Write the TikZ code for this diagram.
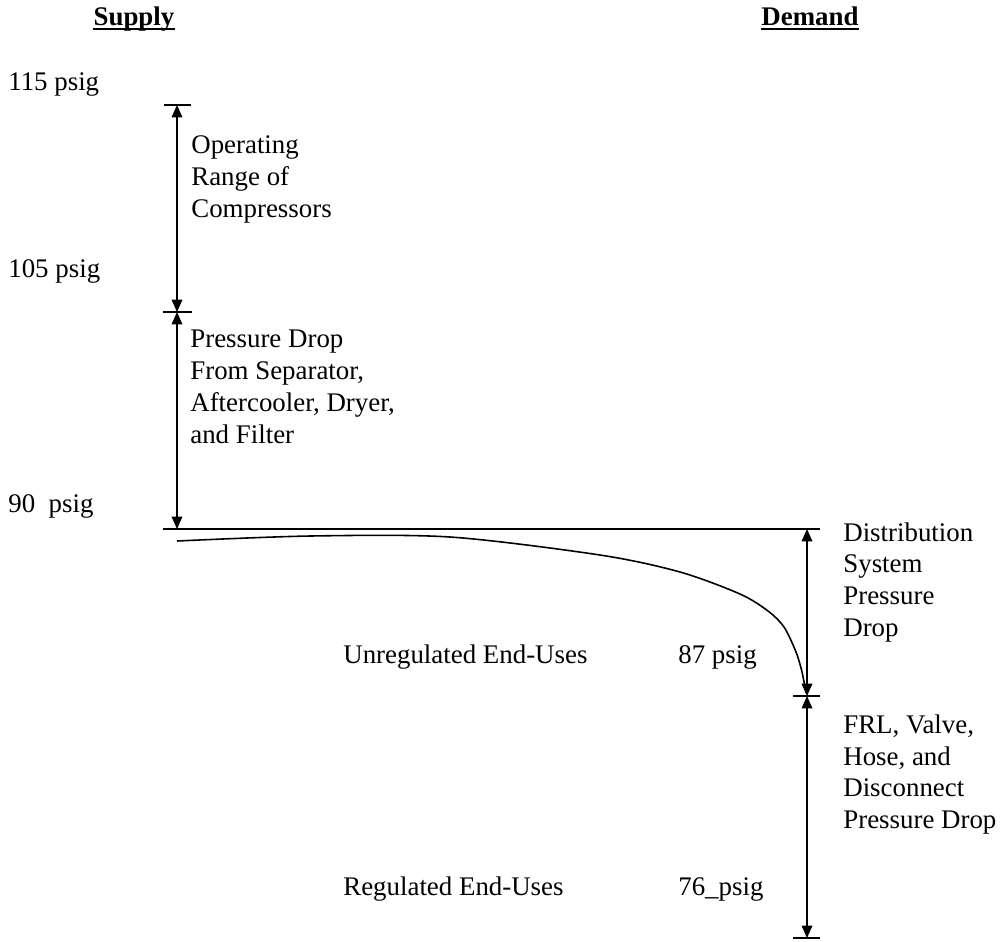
\documentclass[tikz,border=0pt]{standalone}
\usepackage{fontspec}
\setmainfont{Liberation Serif}
\usetikzlibrary{arrows.meta}

\begin{document}
\begin{tikzpicture}[
  x=0.02cm, y=-0.02cm,
  every node/.style={inner sep=0pt, font=\fontsize{15.3}{18.2}\selectfont},
  lbl/.style={anchor=base west},
  note/.style={anchor=north west, align=left},
  head/.style={anchor=base, font=\fontsize{15.3}{18.2}\selectfont\bfseries},
  dim/.style={{Triangle[length=7pt,width=6pt]}-{Triangle[length=7pt,width=6pt]}, line width=0.9pt},
  tick/.style={line width=0.9pt}
]
\useasboundingbox (0,0) rectangle (1003,941);

% headings
\node[head] (supply) at (134,25) {Supply};
\node[head] (demand) at (810,25) {Demand};
\draw[line width=1.1pt] ([yshift=-2.3pt]supply.base west) -- ([yshift=-2.3pt]supply.base east);
\draw[line width=1.1pt] ([yshift=-2.3pt]demand.base west) -- ([yshift=-2.3pt]demand.base east);

% pressure levels
\node[lbl] (p115) at (8,90) {115 psig};
\node[lbl] (p105) at (8,277) {105 psig};
\node[lbl] (p90) at (8,512) {90\ \ psig};

% dimension ends
\coordinate (a1) at (177,105);
\coordinate (a2) at (177,312);
\coordinate (a3) at (177,529);
\coordinate (b1) at (807,529);
\coordinate (b2) at (807,696);
\coordinate (b3) at (807,938);

\draw[tick] (164,105) -- (191,105);
\draw[tick] (163,312) -- (192,312);
\draw[tick] (163,529) -- (820,529);
\draw[tick] (793,696) -- (820,696);
\draw[tick] (793,938) -- (820,938);

\draw[dim] (a1) -- (a2);
\draw[dim] (a2) -- (a3);
\draw[dim] (b1) -- (b2);
\draw[dim] (b2) -- (b3);

% pressure curve
\draw[line width=0.9pt] plot[smooth, tension=0.5] coordinates {(177,541) (310,536) (450,537) (600,555) (680,572) (740,594) (768,611) (784,627) (796,652) (802,672) (806,693)};

% labels
\node[note] (oper) at (191,135) {Operating\\Range of\\Compressors};
\node[note] (sep) at (190,330) {Pressure Drop\\From Separator,\\Aftercooler, Dryer,\\and Filter};
\node[note] (dist) at (843,522) {Distribution\\System\\Pressure\\Drop};
\node[note] (frl) at (843,714) {FRL, Valve,\\Hose, and\\Disconnect\\Pressure Drop};
\node[lbl] (unreg) at (343,663) {Unregulated End-Uses};
\node[lbl] (p87) at (678,663) {87 psig};
\node[lbl] (reg) at (343,895) {Regulated End-Uses};
\node[lbl] (p76) at (678,895) {76\_psig};
\end{tikzpicture}
\end{document}
